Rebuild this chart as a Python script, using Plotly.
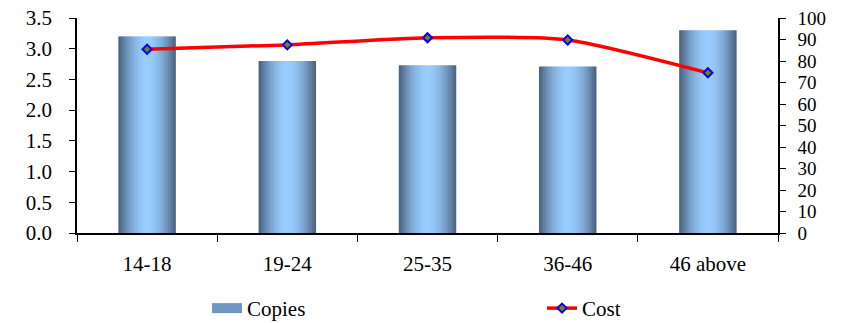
import plotly.graph_objects as go

# Data
age_groups = ["14-18", "19-24", "25-35", "36-46", "46 above"]
copies = [3.2, 2.8, 2.73, 2.71, 3.3]
cost = [85.5, 87.5, 90.8, 89.8, 74.5]

left_ticks = [0.0, 0.5, 1.0, 1.5, 2.0, 2.5, 3.0, 3.5]
right_ticks = list(range(0, 101, 10))

FONT = "Liberation Serif"
FS = 21
DARK = (72, 94, 120)
LIGHT = (153, 204, 255)

# Cylinder-like horizontal shading built from thin bar strips
N_STRIPS = 28
BAR_W = 0.41
strip_w = BAR_W / N_STRIPS


def shade(t):
    d = abs((t - 0.5) / 0.5)
    f = max(0.0, 1 - d ** 1.8)
    r, g, b = (DARK[i] + (LIGHT[i] - DARK[i]) * f for i in range(3))
    return f"rgb({r:.0f},{g:.0f},{b:.0f})"


fig = go.Figure()
for i in range(N_STRIPS):
    t = (i + 0.5) / N_STRIPS
    fig.add_trace(go.Bar(
        x=age_groups, y=copies,
        offset=-BAR_W / 2 + i * strip_w,
        width=strip_w * (1.35 if i < N_STRIPS - 1 else 1.0),
        marker=dict(color=shade(t), line=dict(width=0)),
        name="Copies",
        legendgroup="copies",
        showlegend=False,
        hoverinfo="skip",
    ))

# Legend key for the shaded bars
fig.add_trace(go.Scatter(
    x=[None], y=[None], mode="lines",
    line=dict(color="rgb(112,150,196)", width=13),
    name="Copies", legendgroup="copies",
))

fig.add_trace(go.Scatter(
    x=age_groups, y=cost, yaxis="y2",
    mode="lines+markers",
    line=dict(color="#ff0000", width=3.5, shape="spline", smoothing=0.6),
    marker=dict(symbol="diamond", size=7, color="#808000",
                line=dict(color="#0000ff", width=2)),
    name="Cost",
    hoverinfo="skip",
))

fig.update_layout(
    width=845, height=323,
    margin=dict(l=77, r=67, t=18, b=90, autoexpand=False),
    paper_bgcolor="white", plot_bgcolor="white",
    font=dict(family=FONT, size=FS, color="black"),
    barmode="overlay",
    showlegend=True,
    legend=dict(
        orientation="h",
        xref="container", x=0.245, xanchor="left",
        yref="container", y=0.045, yanchor="middle",
        entrywidth=290, entrywidthmode="pixels",
        font=dict(family=FONT, size=FS),
        bgcolor="rgba(0,0,0,0)",
    ),
    xaxis=dict(
        type="category",
        showline=True, linecolor="black", linewidth=2,
        ticks="outside", tickson="boundaries", ticklen=7, tickcolor="black",
        ticklabelstandoff=11,
        showgrid=False, zeroline=False,
        tickfont=dict(family=FONT, size=FS),
    ),
    yaxis=dict(
        range=[0, 3.5], tickvals=left_ticks,
        tickformat=".1f",
        showline=True, linecolor="black", linewidth=1.5,
        ticks="outside", ticklen=6, tickcolor="black",
        ticklabelstandoff=13,
        showgrid=False, zeroline=False,
        tickfont=dict(family=FONT, size=FS),
    ),
    yaxis2=dict(
        range=[0, 100], tickvals=right_ticks,
        overlaying="y", side="right",
        showline=True, linecolor="black", linewidth=1.5,
        ticks="outside", ticklen=6, tickcolor="black",
        ticklabelstandoff=8,
        showgrid=False, zeroline=False,
        tickfont=dict(family=FONT, size=19),
    ),
)

fig.write_html("out.html")
